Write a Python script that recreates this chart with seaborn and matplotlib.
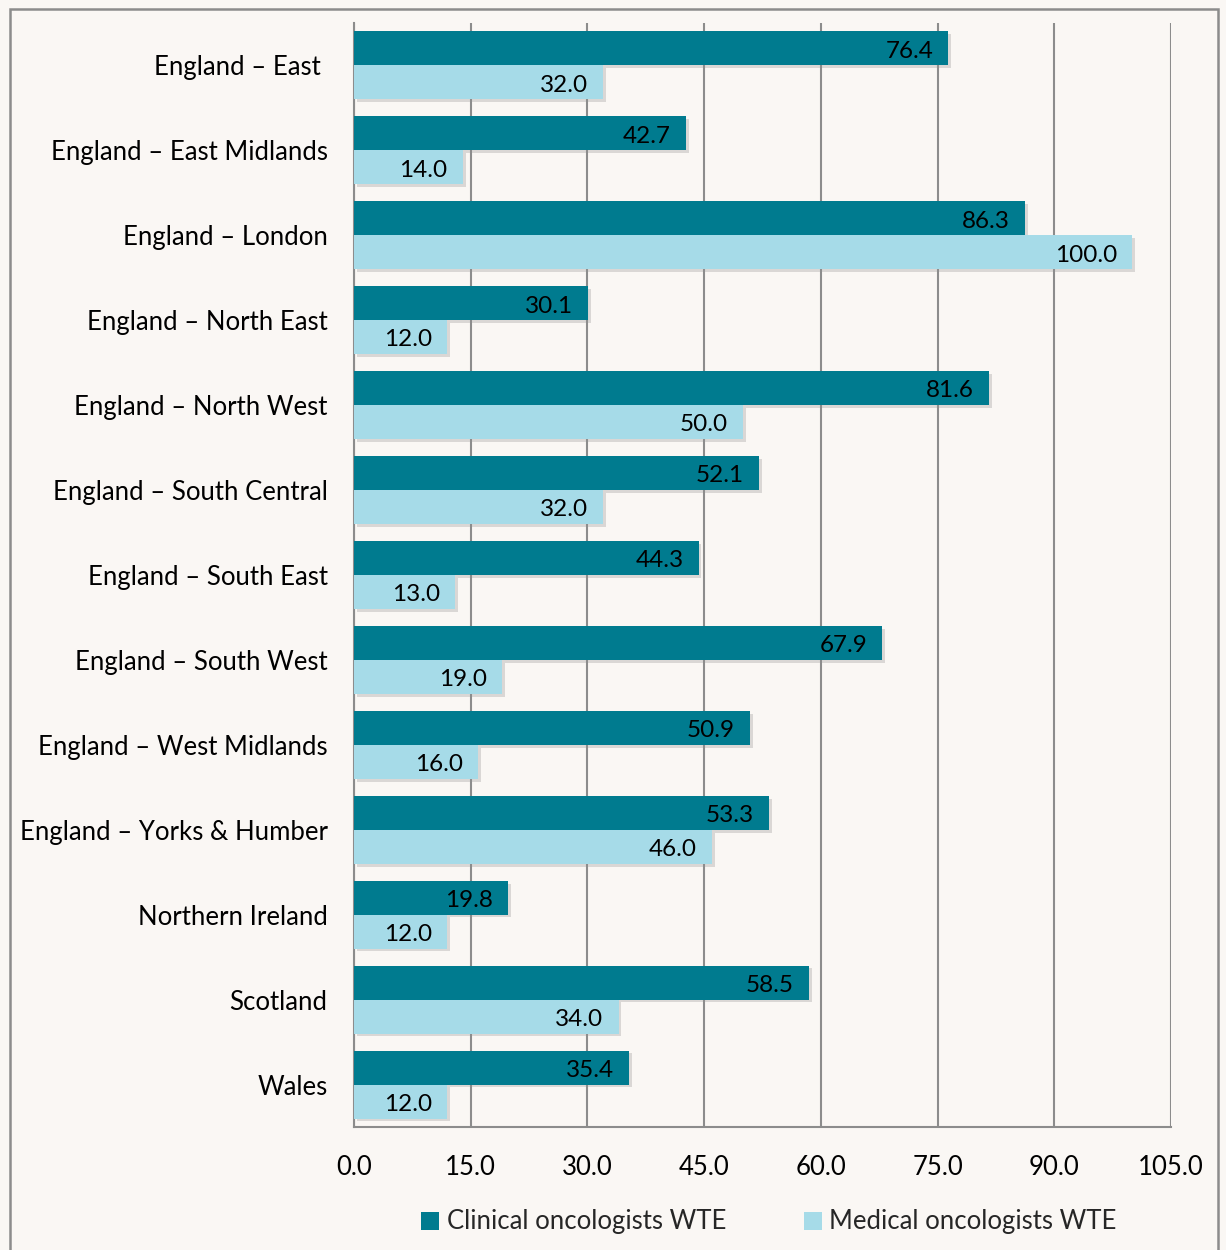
import matplotlib
matplotlib.use("Agg")
import matplotlib.pyplot as plt
import matplotlib.patheffects as pe
from matplotlib.patches import Rectangle
import seaborn as sns
import pandas as pd
import numpy as np

regions = ["England – East ", "England – East Midlands", "England – London",
           "England – North East", "England – North West", "England – South Central",
           "England – South East", "England – South West", "England – West Midlands",
           "England – Yorks & Humber", "Northern Ireland", "Scotland", "Wales"]
clinical = [76.4, 42.7, 86.3, 30.1, 81.6, 52.1, 44.3, 67.9, 50.9, 53.3, 19.8, 58.5, 35.4]
medical = [32.0, 14.0, 100.0, 12.0, 50.0, 32.0, 13.0, 19.0, 16.0, 46.0, 12.0, 34.0, 12.0]
series_names = ["Clinical oncologists WTE", "Medical oncologists WTE"]
xticks = [0, 15, 30, 45, 60, 75, 90, 105]

df = pd.DataFrame({
    "region": regions * 2,
    "value": clinical + medical,
    "series": [series_names[0]] * len(regions) + [series_names[1]] * len(regions),
})

sns.set_theme(style="white")
plt.rcParams["font.family"] = ["Lato", "DejaVu Sans"]

bg = "#FAF7F4"
grid_c = "#8C8C8C"
colors = ["#007B8F", "#A6DBE8"]

fig = plt.figure(figsize=(12.26, 12.5), dpi=100, facecolor=bg)
ax = fig.add_axes([354 / 1226, 1 - 1127 / 1250, 817 / 1226, (1127 - 23) / 1250])
ax.set_facecolor(bg)

sns.barplot(data=df, y="region", x="value", hue="series", orient="h",
            palette=colors, width=0.8, saturation=1, ax=ax, zorder=3)

handles, labels = ax.get_legend_handles_labels()
if ax.get_legend() is not None:
    ax.get_legend().remove()

shadow = [pe.SimplePatchShadow(offset=(2, -2), shadow_rgbFace="#909090", alpha=0.3), pe.Normal()]
for c in ax.containers:
    for p in c:
        p.set_edgecolor("none")
        p.set_path_effects(shadow)

for c in ax.containers:
    texts = ax.bar_label(c, fmt="%.1f", padding=-11, fontsize=17.5, color="black")
    for t in texts:
        t.set_ha("right")
        t.xyann = (-11, -2)
        t.set_zorder(5)

ax.set_xlim(0, 105)
ax.set_ylim(len(regions) - 0.5, -0.5)
ax.set_xticks(xticks)
ax.set_xticklabels([f"{v:.1f}" for v in xticks], fontsize=18.5)
ax.set_xlabel("")
ax.set_ylabel("")
ax.tick_params(axis="y", which="major", length=0, pad=19, labelsize=18.5, labelcolor="black")
ax.set_yticks(np.arange(-0.5, len(regions) + 0.5, 1), minor=True)
ax.tick_params(axis="y", which="minor", length=7, width=1.5, color=grid_c, direction="out")
ax.tick_params(axis="x", length=7, width=1.5, color=grid_c, direction="out", pad=13, labelcolor="black")
ax.xaxis.grid(True, color=grid_c, linewidth=1.5, zorder=0)
ax.yaxis.grid(False)
ax.set_axisbelow(True)

for s in ["top", "right"]:
    ax.spines[s].set_visible(False)
for s in ["left", "bottom"]:
    ax.spines[s].set_color(grid_c)
    ax.spines[s].set_linewidth(1.5)

leg = fig.legend(handles, labels, loc="center", bbox_to_anchor=(769 / 1226, 1 - 1222 / 1250),
                 ncol=2, frameon=False, fontsize=18.5, handlelength=0.7, handleheight=0.7,
                 handletextpad=0.3, columnspacing=3.0)
for h in leg.legend_handles:
    h.set_path_effects([])
    h.set_edgecolor("none")

fig.patches.append(Rectangle((10 / 1226, -0.01), (1218 - 10) / 1226, 1 - 9 / 1250 + 0.01,
                             transform=fig.transFigure, fill=False, edgecolor="#8C8C8C",
                             linewidth=1.8, zorder=-1))

fig.savefig("out.png", dpi=100, facecolor=bg)
